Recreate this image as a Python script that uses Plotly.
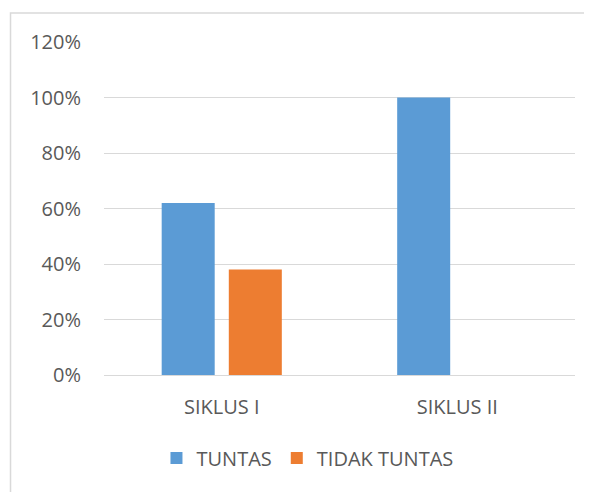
import plotly.graph_objects as go

categories = ["SIKLUS I", "SIKLUS II"]
tuntas = [0.62, 1.00]
tidak_tuntas = [0.38, 0.0]
y_ticks = [0, 0.2, 0.4, 0.6, 0.8, 1.0, 1.2]
y_tick_labels = ["0%", "20%", "40%", "60%", "80%", "100%", "120%"]

FONT = "Open Sans"
TXT = "#595959"
FS = 20

fig = go.Figure()
fig.add_trace(go.Bar(name="TUNTAS", x=categories, y=tuntas, marker_color="#5B9BD5",
                     marker_line_width=0))
fig.add_trace(go.Bar(name="TIDAK TUNTAS", x=categories, y=tidak_tuntas, marker_color="#ED7D31",
                     marker_line_width=0))

fig.update_layout(
    width=592, height=492,
    margin=dict(l=96, r=25, t=34, b=125),
    paper_bgcolor="white", plot_bgcolor="white",
    barmode="group", bargap=0.43, bargroupgap=0.21,
    font=dict(family=FONT, color=TXT, size=FS),
    showlegend=True,
    legend=dict(orientation="h", x=0.432, xanchor="center", y=-0.249, yanchor="middle",
                font=dict(size=FS, color=TXT), itemwidth=30, traceorder="normal"),
    xaxis=dict(showgrid=False, showline=True, linecolor="#D9D9D9", linewidth=1,
               tickfont=dict(size=FS, color=TXT), ticks="outside", ticklen=14,
               tickcolor="rgba(0,0,0,0)"),
    yaxis=dict(range=[0, 1.2], tickvals=y_ticks, ticktext=y_tick_labels,
               showgrid=True, gridcolor="#D9D9D9", gridwidth=1, zeroline=False,
               showline=False, tickfont=dict(size=FS, color=TXT),
               ticks="outside", ticklen=18, tickcolor="rgba(0,0,0,0)"),
    shapes=[dict(type="rect", xref="paper", yref="paper",
                 x0=-0.1985, x1=1.2, y0=-0.5, y1=1.087,
                 line=dict(color="#D9D9D9", width=1.5), fillcolor="rgba(0,0,0,0)",
                 layer="below")],
)

fig.write_html("out.html")
